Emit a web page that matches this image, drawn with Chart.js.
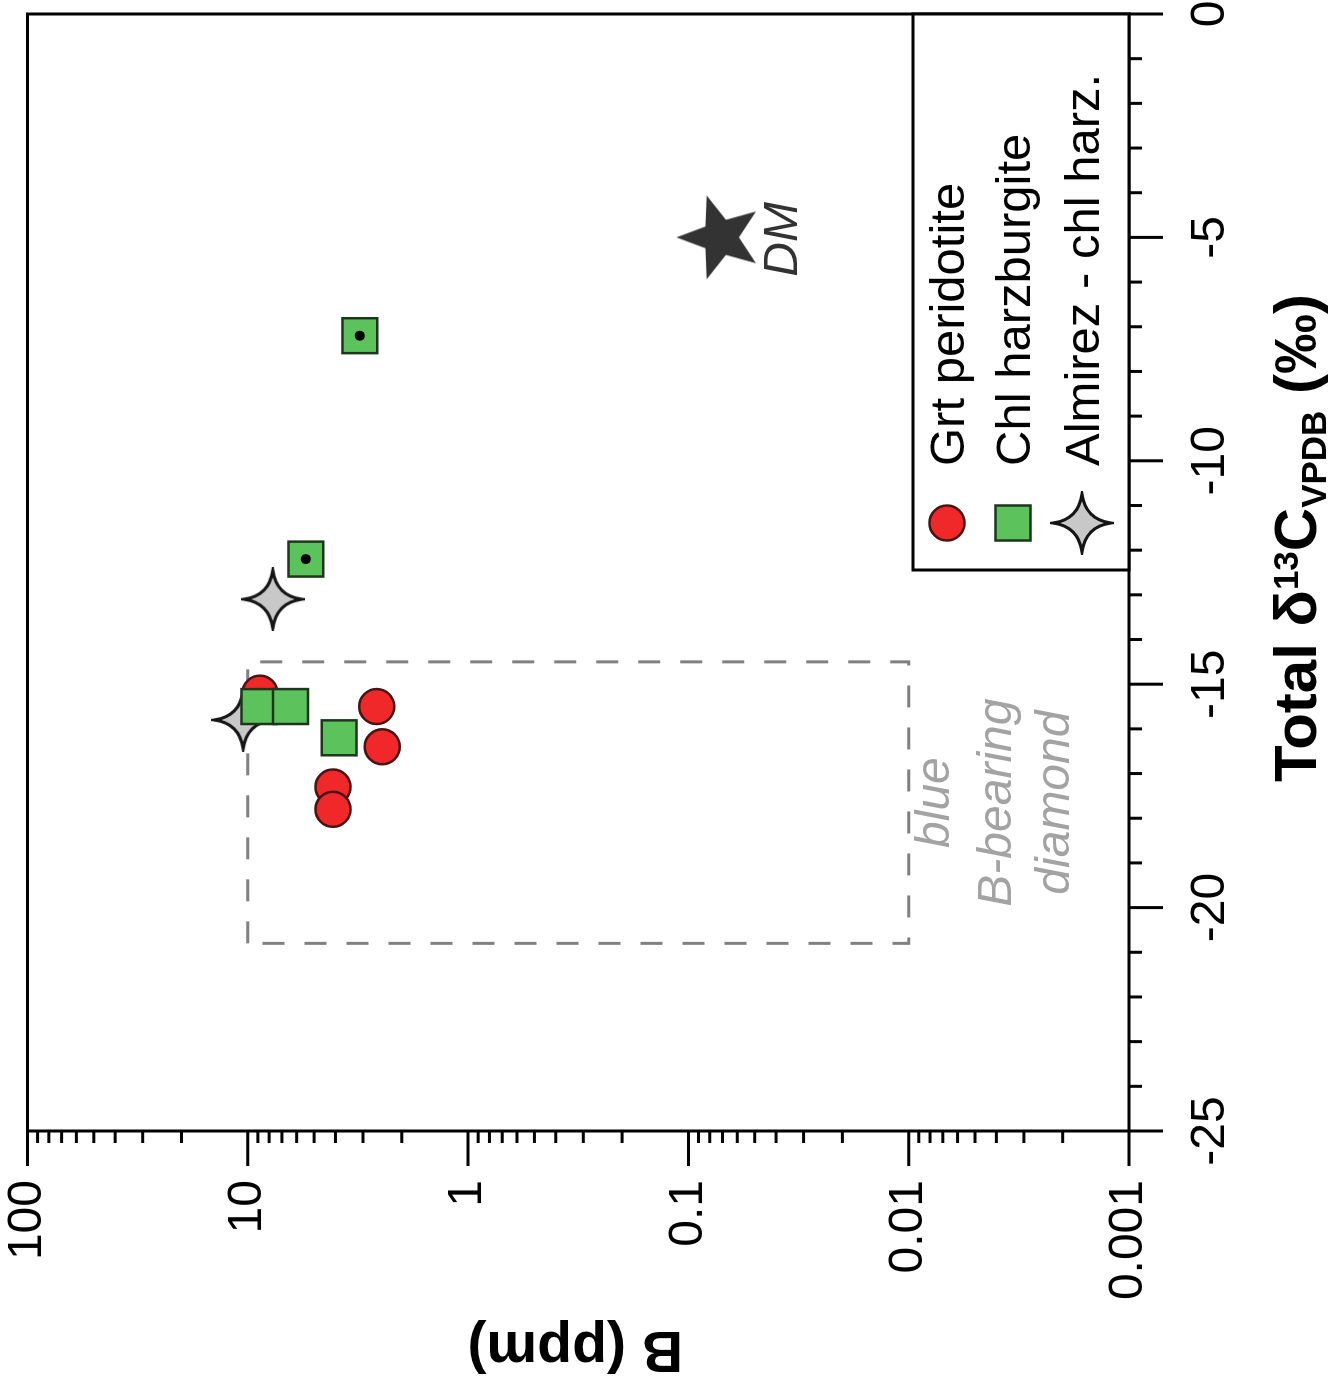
<!DOCTYPE html>
<html>
<head>
<meta charset="utf-8">
<script src="https://cdn.jsdelivr.net/npm/chart.js@4.4.0/dist/chart.umd.min.js"></script>
<style>
  html, body { margin: 0; padding: 0; background: #fff; overflow: hidden; }
  body { width: 1330px; height: 1392px; position: relative; }
  /* the figure is drawn upright and then turned a quarter turn to the left */
  #wrap {
    position: absolute; left: 0; top: 0;
    width: 1392px; height: 1330px;
    transform-origin: 0 0;
    transform: translateY(1392px) rotate(-90deg);
  }
</style>
</head>
<body>
<div id="wrap"><canvas id="chart" width="1392" height="1330"></canvas></div>
<script>
  'use strict';

  // ---- data (B in ppm, total d13C in permil) ----
  const grtB = [8.8, 2.6, 2.45, 4.1, 4.1];
  const grtD = [-15.2, -15.5, -16.4, -17.3, -17.8];

  const chlB = [3.1, 5.45, 8.9, 6.4, 3.85];
  const chlD = [-7.2, -12.2, -15.5, -15.5, -16.2];
  const chlCore = [true, true, false, false, false]; // samples marked with a black dot

  const almB = [7.7, 10.5];
  const almD = [-13.1, -15.8];

  const dmB = [0.075];
  const dmD = [-5.0];

  // field of blue B-bearing diamond
  const boxB = [0.01, 10];
  const boxD = [-20.8, -14.5];

  const dTicks = [-25, -20, -15, -10, -5, 0];
  const bTicks = [0.001, 0.01, 0.1, 1, 10, 100];

  const legendLabels = ['Grt peridotite', 'Chl harzburgite', 'Almirez - chl harz.'];
  const boxLabel = ['blue', 'B-bearing', 'diamond'];

  const FONT = '"Liberation Sans", Arial, sans-serif';
  const COLORS = {
    red: '#f0282a', redEdge: '#4a1414',
    green: '#5cc35c', greenEdge: '#1d361d',
    grey: '#c8c8c8', greyEdge: '#151515',
    dm: '#333333',
    box: '#808080',
    boxText: '#a3a3a3'
  };

  function toPoints(bs, ds) {
    return bs.map((b, i) => ({ x: ds[i], y: b }));
  }

  // 4-pointed star with curved sides
  function makeStar4(R) {
    const lw = 3;
    const s = Math.ceil(2 * R + 2 * lw);
    const c = document.createElement('canvas');
    c.width = c.height = s;
    const g = c.getContext('2d');
    g.translate(s / 2, s / 2);
    const k = 0.12 * R;
    g.beginPath();
    g.moveTo(0, -R);
    g.quadraticCurveTo(k, -k, R, 0);
    g.quadraticCurveTo(k, k, 0, R);
    g.quadraticCurveTo(-k, k, -R, 0);
    g.quadraticCurveTo(-k, -k, 0, -R);
    g.closePath();
    g.fillStyle = COLORS.grey;
    g.fill();
    g.lineWidth = lw;
    g.lineJoin = 'miter';
    g.strokeStyle = COLORS.greyEdge;
    g.stroke();
    return c;
  }

  // 5-pointed filled star
  function makeStar5(R) {
    const s = Math.ceil(2 * R + 4);
    const c = document.createElement('canvas');
    c.width = c.height = s;
    const g = c.getContext('2d');
    g.translate(s / 2, s / 2 + R * 0.1);
    const r = R * 0.42;
    g.beginPath();
    for (let i = 0; i < 10; i++) {
      const a = -Math.PI / 2 + i * Math.PI / 5;
      const rad = i % 2 ? r : R;
      if (i === 0) g.moveTo(rad * Math.cos(a), rad * Math.sin(a));
      else g.lineTo(rad * Math.cos(a), rad * Math.sin(a));
    }
    g.closePath();
    g.fillStyle = COLORS.dm;
    g.fill();
    return c;
  }

  const star4 = makeStar4(29);
  const star5 = makeStar5(44);

  function line(ctx, x1, y1, x2, y2) {
    ctx.beginPath();
    ctx.moveTo(x1, y1);
    ctx.lineTo(x2, y2);
    ctx.stroke();
  }

  // keep the scale from pushing the plot area inwards for its end labels
  function noLabelPadding(s) {
    s.paddingLeft = s.paddingRight = s.paddingTop = s.paddingBottom = 0;
  }

  const decorPlugin = {
    id: 'decor',

    beforeDatasetsDraw(chart) {
      const { ctx, scales: { x, y } } = chart;
      const x0 = x.getPixelForValue(boxD[0]), x1 = x.getPixelForValue(boxD[1]);
      const y0 = y.getPixelForValue(boxB[0]), y1 = y.getPixelForValue(boxB[1]);
      ctx.save();
      ctx.strokeStyle = COLORS.box;
      ctx.lineWidth = 3;
      ctx.setLineDash([22, 20]);
      ctx.strokeRect(x0, y1, x1 - x0, y0 - y1);
      ctx.setLineDash([]);

      ctx.fillStyle = COLORS.boxText;
      ctx.font = 'italic 48px ' + FONT;
      ctx.textAlign = 'center';
      ctx.textBaseline = 'alphabetic';
      const cx = (x0 + x1) / 2;
      const offs = [40, 102, 160];
      boxLabel.forEach((t, i) => ctx.fillText(t, cx, y0 + offs[i]));
      ctx.restore();
    },

    afterDatasetsDraw(chart) {
      const { ctx, scales: { x, y } } = chart;
      const px = x.getPixelForValue(dmD[0]);
      const py = y.getPixelForValue(dmB[0]);
      ctx.save();
      ctx.fillStyle = COLORS.dm;
      ctx.font = 'italic 48px ' + FONT;
      ctx.textAlign = 'center';
      ctx.textBaseline = 'alphabetic';
      ctx.fillText('DM', px - 2, py + 81);
      ctx.restore();
    },

    afterDraw(chart) {
      const { ctx, chartArea: a, scales: { x, y } } = chart;
      ctx.save();
      ctx.strokeStyle = '#000';
      ctx.lineWidth = 3;
      ctx.lineCap = 'butt';

      // frame
      ctx.strokeRect(a.left, a.top, a.right - a.left, a.bottom - a.top);

      // d13C ticks (major every 5, minor every 1)
      for (let v = dTicks[0]; v <= dTicks[dTicks.length - 1]; v++) {
        const px = x.getPixelForValue(v);
        const len = v % 5 === 0 ? 34 : 13;
        line(ctx, px, a.bottom, px, a.bottom + len);
      }

      // B ticks (decades plus 2..9)
      bTicks.forEach((v, i) => {
        const py = y.getPixelForValue(v);
        line(ctx, a.left, py, a.left - 35, py);
        if (i < bTicks.length - 1) {
          for (let m = 2; m <= 9; m++) {
            const pm = y.getPixelForValue(v * m);
            line(ctx, a.left, pm, a.left - 12, pm);
          }
        }
      });

      // axis titles
      ctx.fillStyle = '#000';
      ctx.textBaseline = 'alphabetic';

      ctx.save();
      ctx.translate(60, (a.top + a.bottom) / 2 - 3);
      ctx.rotate(-Math.PI / 2);
      ctx.font = 'bold 57px ' + FONT;
      ctx.textAlign = 'center';
      ctx.fillText('B (ppm)', 0, 0);
      ctx.restore();

      const parts = [
        { t: 'Total \u03b4', size: 60, dy: 0 },
        { t: '13', size: 35, dy: -18 },
        { t: 'C', size: 60, dy: 0 },
        { t: 'VPDB', size: 35, dy: 10 },
        { t: ' (\u2030)', size: 60, dy: 0 }
      ];
      let total = 0;
      parts.forEach(p => {
        ctx.font = 'bold ' + p.size + 'px ' + FONT;
        p.w = ctx.measureText(p.t).width;
        total += p.w;
      });
      let tx = 854 - total / 2;
      ctx.textAlign = 'left';
      parts.forEach(p => {
        ctx.font = 'bold ' + p.size + 'px ' + FONT;
        ctx.fillText(p.t, tx, 1316 + p.dy);
        tx += p.w;
      });

      // legend box in the lower right corner of the plot
      const lw = 556, lh = 216;
      const lx = a.right - lw, ly = a.bottom - lh;
      ctx.fillStyle = '#fff';
      ctx.fillRect(lx, ly, lw, lh);
      ctx.strokeRect(lx, ly, lw, lh);

      const rows = [34, 100, 169];
      const mx = lx + 47;
      // circle
      ctx.beginPath();
      ctx.arc(mx, ly + rows[0], 17.5, 0, Math.PI * 2);
      ctx.fillStyle = COLORS.red;
      ctx.fill();
      ctx.lineWidth = 2.5;
      ctx.strokeStyle = COLORS.redEdge;
      ctx.stroke();
      // square
      ctx.fillStyle = COLORS.green;
      ctx.fillRect(mx - 17.5, ly + rows[1] - 17.5, 35, 35);
      ctx.strokeStyle = COLORS.greenEdge;
      ctx.strokeRect(mx - 17.5, ly + rows[1] - 17.5, 35, 35);
      // star
      ctx.drawImage(star4, mx - star4.width / 2, ly + rows[2] - star4.height / 2);

      ctx.fillStyle = '#000';
      ctx.font = '49px ' + FONT;
      ctx.textAlign = 'left';
      legendLabels.forEach((t, i) => ctx.fillText(t, lx + 104, ly + rows[i] + 17));

      ctx.restore();
    }
  };

  const tickFont = { family: FONT, size: 48, lineHeight: 1.0 };

  new Chart(document.getElementById('chart'), {
    type: 'scatter',
    data: {
      datasets: [
        {
          label: 'core',
          data: toPoints(chlB, chlD).filter((p, i) => chlCore[i]),
          pointStyle: 'circle',
          pointRadius: 5,
          backgroundColor: '#000',
          borderWidth: 0
        },
        {
          label: legendLabels[1],
          data: toPoints(chlB, chlD),
          pointStyle: 'rect',
          pointRadius: 24.7,
          backgroundColor: COLORS.green,
          borderColor: COLORS.greenEdge,
          borderWidth: 2.5
        },
        {
          label: legendLabels[0],
          data: toPoints(grtB, grtD),
          pointStyle: 'circle',
          pointRadius: 17.5,
          backgroundColor: COLORS.red,
          borderColor: COLORS.redEdge,
          borderWidth: 2.5
        },
        {
          label: legendLabels[2],
          data: toPoints(almB, almD),
          pointStyle: star4,
          pointRadius: 30
        },
        {
          label: 'DM',
          data: toPoints(dmB, dmD),
          pointStyle: star5,
          pointRadius: 44
        }
      ]
    },
    options: {
      responsive: false,
      animation: false,
      devicePixelRatio: 1,
      events: [],
      layout: { autoPadding: false, padding: { top: 27.5, right: 14, left: 0, bottom: 0 } },
      plugins: {
        legend: { display: false },
        tooltip: { enabled: false }
      },
      scales: {
        x: {
          type: 'linear',
          position: 'bottom',
          min: -25,
          max: 0,
          afterBuildTicks: s => { s.ticks = dTicks.map(v => ({ value: v })); },
          afterFit: s => { s.height = 201; noLabelPadding(s); },
          grid: { display: false, drawTicks: false },
          border: { display: false },
          ticks: {
            font: tickFont,
            color: '#000',
            padding: 58,
            maxRotation: 0,
            autoSkip: false,
            callback: v => String(v)
          }
        },
        y: {
          type: 'logarithmic',
          position: 'left',
          min: 0.001,
          max: 100,
          afterBuildTicks: s => { s.ticks = bTicks.map(v => ({ value: v })); },
          afterFit: s => { s.width = 261; noLabelPadding(s); },
          grid: { display: false, drawTicks: false },
          border: { display: false },
          ticks: {
            font: tickFont,
            color: '#000',
            padding: 49,
            autoSkip: false,
            callback: v => String(v)
          }
        }
      }
    },
    plugins: [decorPlugin]
  });
</script>
</body>
</html>
